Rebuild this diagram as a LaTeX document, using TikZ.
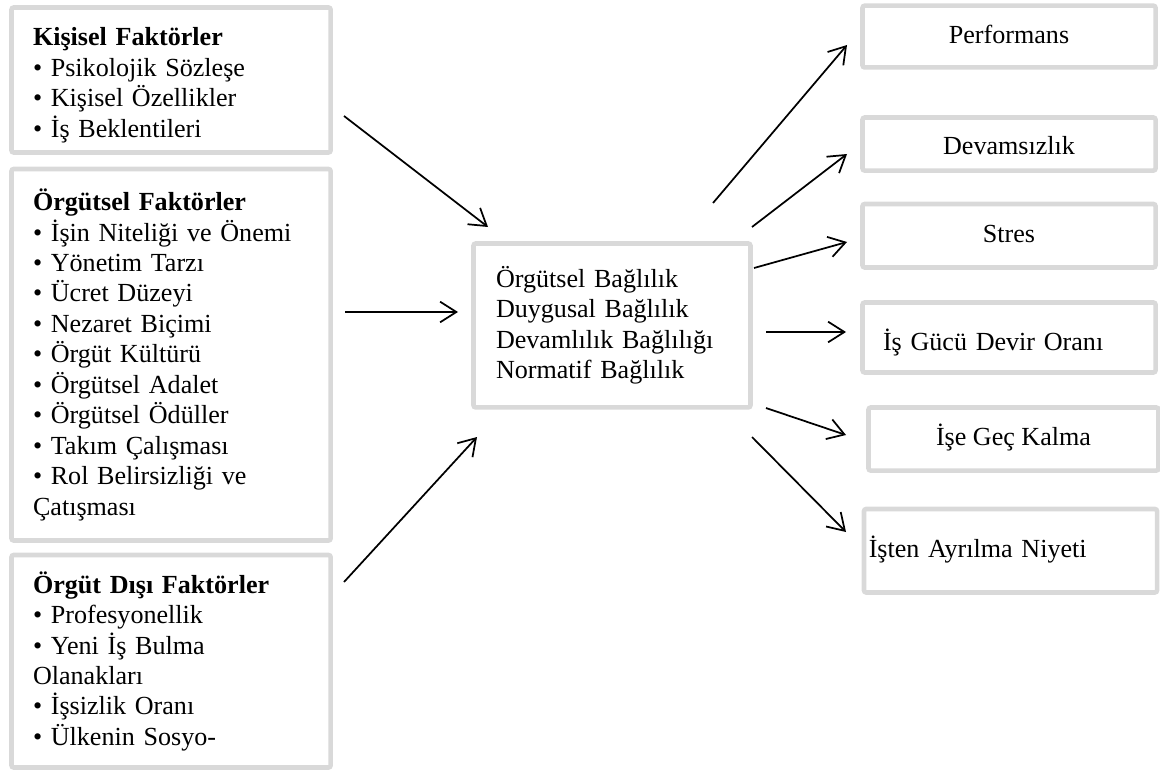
\documentclass[tikz,border=0pt]{standalone}
\usepackage{fontspec}
\setmainfont{Liberation Serif}
\usetikzlibrary{arrows.meta}

\definecolor{boxgray}{RGB}{217,217,217}

\tikzset{
    box/.style={draw=boxgray, line width=2.1pt, rounded corners=1pt, fill=white,
        anchor=north west, outer sep=0pt, font=\fontsize{12}{14}\selectfont},
    factorbox/.style={box, align=left, inner xsep=9.9pt, text width=127pt},
    outcomebox/.style={box, align=center, minimum width=134.8pt, text height=9pt, text depth=3pt},
    link/.style={line width=0.8pt, -{Straight Barb[length=7.5pt,width=9.5pt]}}
}

\begin{document}
\begin{tikzpicture}[x=0.46pt, y=-0.46pt]
    \useasboundingbox (0,0) rectangle (1160,770);

    % Factors (left)
    \node[factorbox, minimum height=66.7pt] (kisisel) at (11.5,7.5)
        {\rule{0pt}{13pt}\textbf{Kişisel Faktörler}\\
         • Psikolojik Sözleşe\\
         • Kişisel Özellikler\\
         • İş Beklentileri};
    \node[factorbox, minimum height=170.9pt] (orgutsel) at (11.5,169)
        {\textbf{Örgütsel Faktörler}\\
         • İşin Niteliği ve Önemi\\
         • Yönetim Tarzı\\
         • Ücret Düzeyi\\
         • Nezaret Biçimi\\
         • Örgüt Kültürü\\
         • Örgütsel Adalet\\
         • Örgütsel Ödüller\\
         • Takım Çalışması\\
         • Rol Belirsizliği ve\\
         Çatışması};
    \node[factorbox, minimum height=97.75pt] (disi) at (11.5,555)
        {\textbf{Örgüt Dışı Faktörler}\\
         • Profesyonellik\\
         • Yeni İş Bulma\\
         Olanakları\\
         • İşsizlik Oranı\\
         • Ülkenin Sosyo-};

    % Commitment (centre)
    \node[box, align=left, inner xsep=10.35pt, text width=106.7pt, minimum height=75.4pt] (baglilik) at (473.5,243.5)
        {Örgütsel Bağlılık\\
         Duygusal Bağlılık\\
         Devamlılık Bağlılığı\\
         Normatif Bağlılık};

    % Outcomes (right)
    \node[outcomebox, minimum height=28.4pt] (performans) at (862.5,5.7) {Performans};
    \node[outcomebox, minimum height=24.4pt, text height=11.5pt, text depth=1.5pt] (devamsizlik) at (862.5,117.5) {Devamsızlık};
    \node[outcomebox, minimum height=29.2pt] (stres) at (862.5,204) {Stres};
    \node[outcomebox, align=left, inner xsep=9.4pt, text width=115.9pt, minimum height=32.2pt,
        text height=12.5pt, text depth=1pt] (isgucu) at (862.5,302.5) {İş Gücü Devir Oranı};
    \node[outcomebox, minimum width=133.4pt, minimum height=29pt] (gec) at (868.5,407.5) {İşe Geç Kalma};
    \node[outcomebox, align=left, inner xsep=1.84pt, text width=130.4pt, minimum height=38.4pt] (ayrilma) at (864,509) {İşten Ayrılma Niyeti};

    % Arrow ends
    \coordinate (kisisel-out) at (344,116);
    \coordinate (orgutsel-out) at (345,312);
    \coordinate (disi-out) at (344,582);
    \coordinate (baglilik-in1) at (488,227);
    \coordinate (baglilik-in2) at (458,312);
    \coordinate (baglilik-in3) at (477,437);

    \coordinate (baglilik-out1) at (713,203);
    \coordinate (baglilik-out2) at (752,227);
    \coordinate (baglilik-out3) at (754,268);
    \coordinate (baglilik-out4) at (766,332);
    \coordinate (baglilik-out5) at (766,408);
    \coordinate (baglilik-out6) at (752,437);
    \coordinate (performans-in) at (847,45);
    \coordinate (devamsizlik-in) at (847,154);
    \coordinate (stres-in) at (847,242);
    \coordinate (isgucu-in) at (846,332);
    \coordinate (gec-in) at (846,435);
    \coordinate (ayrilma-in) at (846,532);

    % Arrows in
    \draw[link] (kisisel-out) -- (baglilik-in1);
    \draw[link] (orgutsel-out) -- (baglilik-in2);
    \draw[link] (disi-out) -- (baglilik-in3);

    % Arrows out
    \draw[link] (baglilik-out1) -- (performans-in);
    \draw[link] (baglilik-out2) -- (devamsizlik-in);
    \draw[link] (baglilik-out3) -- (stres-in);
    \draw[link] (baglilik-out4) -- (isgucu-in);
    \draw[link] (baglilik-out5) -- (gec-in);
    \draw[link] (baglilik-out6) -- (ayrilma-in);
\end{tikzpicture}
\end{document}
